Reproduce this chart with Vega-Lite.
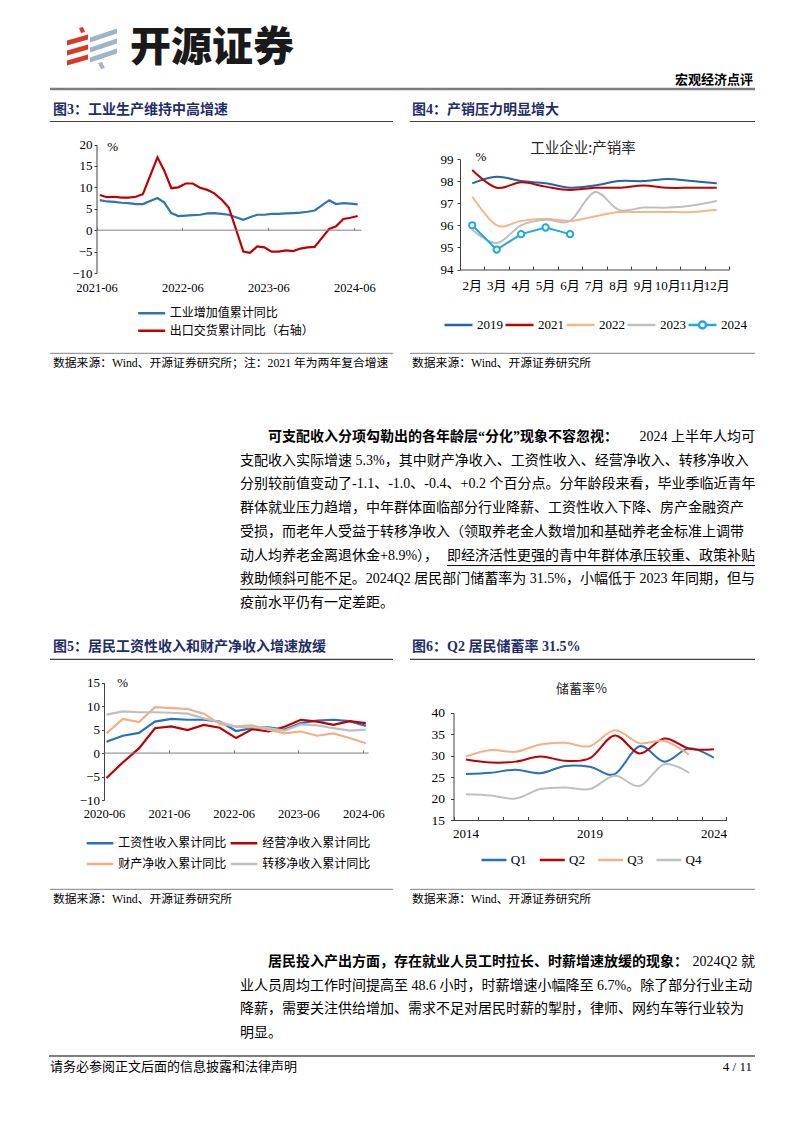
{
"$schema":"https://vega.github.io/schema/vega-lite/v6.json",
"width":802,"height":1133,"padding":0,"autosize":{"type":"none"},"background":"white",
"config":{
 "view":{"stroke":null},
 "axis":{"grid":false,"labelFont":"Liberation Serif, Noto Sans CJK SC","labelColor":"#000","labelFontSize":13,"domainColor":"#404040","tickColor":"#404040","labelFlush":false,"labelOverlap":false,"labelBound":false,"domainWidth":1,"tickWidth":1},
 "legend":{"labelColor":"#000","padding":0,"labelLimit":300,"symbolStrokeWidth":2.5,"clipHeight":14},
 "text":{"font":"Liberation Serif, Noto Sans CJK SC","color":"#000"}
},
"resolve":{"scale":{"x":"independent","y":"independent","color":"independent"},"axis":{"x":"independent","y":"independent"},"legend":{"color":"independent"}},
"layer":[
 {"data":{"values":[{}]},"mark":{"type":"point","shape":"M-25,-7.5L-4,-13.5L-4,-8.5L-25,-2.5Z M-25,2.5L-4,-3.5L-4,1.5L-25,7.5Z M-25,12.5L-4,6.5L-4,11.5L-25,17.5Z M-13,-20L-9,-21L-7,-16L-11,-15Z","size":4,"filled":true,"color":"#d8392b","opacity":1,"strokeWidth":0},"encoding":{"x":{"value":92},"y":{"value":48}}},
 {"data":{"values":[{}]},"mark":{"type":"point","shape":"M-2,-10.5L25,-19.5L25,-14.5L-2,-5.5Z M-2,-0.5L25,-9.5L25,-4.5L-2,4.5Z M-2,9.5L25,0.5L25,5.5L-2,14.5Z M6,15L10,14L13,20L9,21Z","size":4,"filled":true,"color":"#9db5c4","opacity":1,"strokeWidth":0},"encoding":{"x":{"value":92},"y":{"value":48}}},
 {"data":{"values":[{}]},"mark":{"type":"text","text":"开源证券","font":"Noto Sans CJK SC","fontSize":41,"fontWeight":900,"align":"left","baseline":"middle","color":"#1a1a1a"},"encoding":{"x":{"value":130},"y":{"value":49}}},
 {"data":{"values":[{}]},"mark":{"type":"text","text":"宏观经济点评","font":"Noto Sans CJK SC","fontSize":13,"fontWeight":"bold","align":"right","baseline":"middle"},"encoding":{"x":{"value":753},"y":{"value":80}}},
 {"data":{"values":[{}]},"mark":{"type":"rule","color":"#7f7f7f","strokeWidth":2.5},"encoding":{"x":{"value":50},"x2":{"value":755},"y":{"value":89}}},

 {"data":{"values":[{}]},"mark":{"type":"text","text":"图3：工业生产维持中高增速","fontSize":14,"fontWeight":"bold","color":"#1f2d6b","align":"left","baseline":"middle"},"encoding":{"x":{"value":53},"y":{"value":110}}},
 {"data":{"values":[{}]},"mark":{"type":"text","text":"图4：产销压力明显增大","fontSize":14,"fontWeight":"bold","color":"#1f2d6b","align":"left","baseline":"middle"},"encoding":{"x":{"value":412},"y":{"value":110}}},
 {"data":{"values":[{}]},"mark":{"type":"text","text":"图5：居民工资性收入和财产净收入增速放缓","fontSize":14,"fontWeight":"bold","color":"#1f2d6b","align":"left","baseline":"middle"},"encoding":{"x":{"value":53},"y":{"value":647}}},
 {"data":{"values":[{}]},"mark":{"type":"text","text":"图6：Q2 居民储蓄率 31.5%","fontSize":14,"fontWeight":"bold","color":"#1f2d6b","align":"left","baseline":"middle"},"encoding":{"x":{"value":412},"y":{"value":647}}},
 {"data":{"values":[{}]},"mark":{"type":"rule","color":"#404040","strokeWidth":1.2},"encoding":{"x":{"value":50},"x2":{"value":393},"y":{"value":121.5}}},
 {"data":{"values":[{}]},"mark":{"type":"rule","color":"#404040","strokeWidth":1.2},"encoding":{"x":{"value":410},"x2":{"value":755},"y":{"value":121.5}}},
 {"data":{"values":[{}]},"mark":{"type":"rule","color":"#404040","strokeWidth":1.2},"encoding":{"x":{"value":50},"x2":{"value":393},"y":{"value":659.3}}},
 {"data":{"values":[{}]},"mark":{"type":"rule","color":"#404040","strokeWidth":1.2},"encoding":{"x":{"value":410},"x2":{"value":755},"y":{"value":659.3}}},

 {"data":{"values":[{}]},"mark":{"type":"rule","color":"#808080","strokeWidth":1},"encoding":{"x":{"value":50},"x2":{"value":393},"y":{"value":353.3}}},
 {"data":{"values":[{}]},"mark":{"type":"rule","color":"#808080","strokeWidth":1},"encoding":{"x":{"value":410},"x2":{"value":755},"y":{"value":353.3}}},
 {"data":{"values":[{}]},"mark":{"type":"rule","color":"#808080","strokeWidth":1},"encoding":{"x":{"value":50},"x2":{"value":393},"y":{"value":889.3}}},
 {"data":{"values":[{}]},"mark":{"type":"rule","color":"#808080","strokeWidth":1},"encoding":{"x":{"value":410},"x2":{"value":755},"y":{"value":889.3}}},
 {"data":{"values":[{}]},"mark":{"type":"text","text":"数据来源：Wind、开源证券研究所；注：2021 年为两年复合增速","fontSize":11.8,"align":"left","baseline":"middle"},"encoding":{"x":{"value":53},"y":{"value":363.3}}},
 {"data":{"values":[{}]},"mark":{"type":"text","text":"数据来源：Wind、开源证券研究所","fontSize":11.8,"align":"left","baseline":"middle"},"encoding":{"x":{"value":412},"y":{"value":363.3}}},
 {"data":{"values":[{}]},"mark":{"type":"text","text":"数据来源：Wind、开源证券研究所","fontSize":11.8,"align":"left","baseline":"middle"},"encoding":{"x":{"value":53},"y":{"value":899.3}}},
 {"data":{"values":[{}]},"mark":{"type":"text","text":"数据来源：Wind、开源证券研究所","fontSize":11.8,"align":"left","baseline":"middle"},"encoding":{"x":{"value":412},"y":{"value":899.3}}},

 {"data":{"values":[{}]},"mark":{"type":"text","text":"%","fontSize":13,"align":"center","baseline":"middle"},"encoding":{"x":{"value":112.7},"y":{"value":147.3}}},
 {"data":{"values":[{}]},"mark":{"type":"text","text":"%","fontSize":13,"align":"center","baseline":"middle"},"encoding":{"x":{"value":481},"y":{"value":157.3}}},
 {"data":{"values":[{}]},"mark":{"type":"text","text":"%","fontSize":13,"align":"center","baseline":"middle"},"encoding":{"x":{"value":122.7},"y":{"value":683}}},
 {"data":{"values":[{}]},"mark":{"type":"text","text":"工业企业:产销率","font":"Noto Sans CJK SC","fontSize":14.5,"color":"#262626","align":"center","baseline":"middle"},"encoding":{"x":{"value":583},"y":{"value":149.3}}},
 {"data":{"values":[{}]},"mark":{"type":"text","text":"储蓄率%","font":"Noto Sans CJK SC","fontSize":13,"color":"#262626","align":"center","baseline":"middle"},"encoding":{"x":{"value":581.5},"y":{"value":689.3}}},

 {
  "data":{"values":[
   {"d":"2021-06-15","工业增加值累计同比":7.0,"出口交货累计同比（右轴）":8.2},
   {"d":"2021-07-15","工业增加值累计同比":6.7,"出口交货累计同比（右轴）":7.7},
   {"d":"2021-08-15","工业增加值累计同比":6.6,"出口交货累计同比（右轴）":7.8},
   {"d":"2021-09-15","工业增加值累计同比":6.4,"出口交货累计同比（右轴）":7.6},
   {"d":"2021-10-15","工业增加值累计同比":6.3,"出口交货累计同比（右轴）":7.6},
   {"d":"2021-11-15","工业增加值累计同比":6.1,"出口交货累计同比（右轴）":7.8},
   {"d":"2021-12-15","工业增加值累计同比":6.1,"出口交货累计同比（右轴）":8.4},
   {"d":"2022-02-15","工业增加值累计同比":7.5,"出口交货累计同比（右轴）":17.0},
   {"d":"2022-03-15","工业增加值累计同比":6.5,"出口交货累计同比（右轴）":14.0},
   {"d":"2022-04-15","工业增加值累计同比":4.0,"出口交货累计同比（右轴）":9.8},
   {"d":"2022-05-15","工业增加值累计同比":3.3,"出口交货累计同比（右轴）":10.0},
   {"d":"2022-06-15","工业增加值累计同比":3.4,"出口交货累计同比（右轴）":10.9},
   {"d":"2022-07-15","工业增加值累计同比":3.5,"出口交货累计同比（右轴）":10.9},
   {"d":"2022-08-15","工业增加值累计同比":3.6,"出口交货累计同比（右轴）":9.9},
   {"d":"2022-09-15","工业增加值累计同比":3.9,"出口交货累计同比（右轴）":9.4},
   {"d":"2022-10-15","工业增加值累计同比":4.0,"出口交货累计同比（右轴）":8.6},
   {"d":"2022-11-15","工业增加值累计同比":3.8,"出口交货累计同比（右轴）":7.1},
   {"d":"2022-12-15","工业增加值累计同比":3.6,"出口交货累计同比（右轴）":5.3},
   {"d":"2023-02-15","工业增加值累计同比":2.4,"出口交货累计同比（右轴）":-5.0},
   {"d":"2023-03-15","工业增加值累计同比":3.0,"出口交货累计同比（右轴）":-5.3},
   {"d":"2023-04-15","工业增加值累计同比":3.6,"出口交货累计同比（右轴）":-3.8},
   {"d":"2023-05-15","工业增加值累计同比":3.6,"出口交货累计同比（右轴）":-4.0},
   {"d":"2023-06-15","工业增加值累计同比":3.8,"出口交货累计同比（右轴）":-5.0},
   {"d":"2023-07-15","工业增加值累计同比":3.8,"出口交货累计同比（右轴）":-5.0},
   {"d":"2023-08-15","工业增加值累计同比":3.9,"出口交货累计同比（右轴）":-4.7},
   {"d":"2023-09-15","工业增加值累计同比":4.0,"出口交货累计同比（右轴）":-4.9},
   {"d":"2023-10-15","工业增加值累计同比":4.1,"出口交货累计同比（右轴）":-4.3},
   {"d":"2023-11-15","工业增加值累计同比":4.3,"出口交货累计同比（右轴）":-4.0},
   {"d":"2023-12-15","工业增加值累计同比":4.6,"出口交货累计同比（右轴）":-3.9},
   {"d":"2024-02-15","工业增加值累计同比":7.0,"出口交货累计同比（右轴）":0.3},
   {"d":"2024-03-15","工业增加值累计同比":6.1,"出口交货累计同比（右轴）":0.9},
   {"d":"2024-04-15","工业增加值累计同比":6.3,"出口交货累计同比（右轴）":2.6},
   {"d":"2024-05-15","工业增加值累计同比":6.2,"出口交货累计同比（右轴）":2.9},
   {"d":"2024-06-15","工业增加值累计同比":6.0,"出口交货累计同比（右轴）":3.3}
  ]},
  "transform":[{"fold":["工业增加值累计同比","出口交货累计同比（右轴）"],"as":["s","v"]}],
  "resolve":{"axis":{"x":"independent","y":"independent"}},
  "layer":[
   {"mark":{"type":"line","strokeWidth":2.2},
    "encoding":{
     "x":{"field":"d","type":"temporal","title":null,"scale":{"domain":[{"year":2021,"month":6,"date":1},{"year":2024,"month":7,"date":1}],"range":[96.5,361.5]},
      "axis":{"orient":"bottom","offset":-860,"values":[{"year":2021,"month":6,"date":1},{"year":2022,"month":6,"date":1},{"year":2023,"month":6,"date":1},{"year":2024,"month":6,"date":1}],"format":"%Y-%m","domain":false,"ticks":false,"labelPadding":8,"labelFontSize":12.5}},
     "y":{"field":"v","type":"quantitative","title":null,"scale":{"domain":[-10,20],"range":[273,144.5],"nice":false,"zero":false},
      "axis":{"orient":"left","offset":-96.5,"values":[-10,-5,0,5,10,15,20],"tickSize":2.5,"labelPadding":2}},
     "color":{"field":"s","type":"nominal","scale":{"domain":["工业增加值累计同比","出口交货累计同比（右轴）"],"range":["#2e75b6","#c00000"]},
      "legend":{"title":null,"orient":"none","legendX":136.7,"legendY":306.3,"direction":"vertical","symbolType":"stroke","symbolSize":729,"rowPadding":3.4,"labelOffset":3,"labelFont":"Noto Sans CJK SC","labelFontSize":12}}
    }},
   {"data":{"values":[{}]},"mark":{"type":"rule","color":"#7f7f7f","strokeWidth":1},
    "encoding":{
     "x":{"datum":{"year":2021,"month":6,"date":1},"type":"temporal","title":null,"axis":{"orient":"top","offset":-230.3,"values":[{"year":2021,"month":6,"date":1},{"year":2022,"month":6,"date":1},{"year":2023,"month":6,"date":1},{"year":2024,"month":6,"date":1}],"labels":false,"domain":false,"tickSize":3,"tickColor":"#7f7f7f"}},
     "x2":{"datum":{"year":2024,"month":7,"date":1}},
     "y":{"datum":0,"type":"quantitative","axis":null}
    }}
  ]
 },

 {
  "data":{"values":[
   {"m":"2月","2019":97.9,"2021":98.5,"2022":97.3,"2023":95.8,"2024":96.0},
   {"m":"3月","2019":98.2,"2021":97.7,"2022":96.0,"2023":95.2,"2024":94.9},
   {"m":"4月","2019":98.0,"2021":97.95,"2022":96.2,"2023":96.0,"2024":95.6},
   {"m":"5月","2019":97.9,"2021":97.75,"2022":96.3,"2023":96.25,"2024":95.9},
   {"m":"6月","2019":97.7,"2021":97.6,"2022":96.2,"2023":96.2,"2024":95.6},
   {"m":"7月","2019":97.8,"2021":97.7,"2022":96.4,"2023":97.5},
   {"m":"8月","2019":98.0,"2021":97.7,"2022":96.6,"2023":96.7},
   {"m":"9月","2019":98.0,"2021":97.8,"2022":96.6,"2023":96.8},
   {"m":"10月","2019":98.1,"2021":97.7,"2022":96.6,"2023":96.8},
   {"m":"11月","2019":98.0,"2021":97.7,"2022":96.6,"2023":96.9},
   {"m":"12月","2019":97.9,"2021":97.7,"2022":96.7,"2023":97.1}
  ]},
  "transform":[{"fold":["2019","2021","2022","2023","2024"],"as":["yr","v"]},{"filter":"isValid(datum.v)"}],
  "resolve":{"axis":{"x":"independent","y":"independent"}},
  "layer":[
   {"transform":[{"filter":"datum.yr !== '2024'"}],
    "mark":{"type":"line","strokeWidth":2,"interpolate":"cardinal"},
    "encoding":{
     "x":{"field":"m","type":"ordinal","title":null,"scale":{"type":"band","domain":["2月","3月","4月","5月","6月","7月","8月","9月","10月","11月","12月"],"range":[460,729],"paddingInner":0,"paddingOuter":0},
      "axis":{"orient":"bottom","offset":-863.5,"ticks":false,"domain":true,"labelPadding":10,"labelAngle":0,"labelFontSize":13}},
     "y":{"field":"v","type":"quantitative","title":null,"scale":{"domain":[94,99],"range":[269.5,159],"nice":false,"zero":false},
      "axis":{"orient":"left","offset":-460,"values":[94,95,96,97,98,99],"tickSize":3,"labelPadding":4}},
     "color":{"field":"yr","type":"nominal","scale":{"domain":["2019","2021","2022","2023","2024"],"range":["#2463ad","#c00000","#f8b58a","#bfbfbf","#22a7e0"]},
      "legend":{"title":null,"orient":"none","legendX":443,"legendY":318,"direction":"horizontal","columns":5,"symbolType":"stroke","symbolSize":784,"columnPadding":1,"labelOffset":3,"labelFont":"Liberation Serif","labelFontSize":13,
       "encode":{"symbols":{"update":{"shape":{"signal":"datum.value === '2024' ? 'M-1,0H-0.25M0.25,0H1M0.25,0A0.25,0.25,0,1,1,-0.25,0A0.25,0.25,0,1,1,0.25,0' : 'stroke'"},"fill":{"signal":"datum.value === '2024' ? 'white' : 'transparent'"}}}}}}
    }},
   {"transform":[{"filter":"datum.yr === '2024'"}],
    "mark":{"type":"line","strokeWidth":2},
    "encoding":{
     "x":{"field":"m","type":"ordinal","title":null,"axis":{"orient":"top","offset":-269.5,"labels":false,"domain":false,"ticks":true,"tickBand":"extent","tickSize":3.5}},
     "y":{"field":"v","type":"quantitative","axis":null},
     "color":{"field":"yr","type":"nominal"}
    }},
   {"transform":[{"filter":"datum.yr === '2024'"}],
    "mark":{"type":"point","size":40,"strokeWidth":2,"opacity":1},
    "encoding":{
     "x":{"field":"m","type":"ordinal","axis":null},
     "y":{"field":"v","type":"quantitative","axis":null},
     "fill":{"value":"white"},
     "stroke":{"value":"#22a7e0"}
    }}
  ]
 },

 {
  "data":{"values":[
   {"d":"2020-06-15","工资性收入累计同比":2.4,"经营净收入累计同比":-5.3,"财产净收入累计同比":4.2,"转移净收入累计同比":8.2},
   {"d":"2020-09-15","工资性收入累计同比":3.7,"经营净收入累计同比":-2.0,"财产净收入累计同比":7.3,"转移净收入累计同比":8.9},
   {"d":"2020-12-15","工资性收入累计同比":4.3,"经营净收入累计同比":1.0,"财产净收入累计同比":6.6,"转移净收入累计同比":8.7},
   {"d":"2021-03-15","工资性收入累计同比":6.7,"经营净收入累计同比":5.3,"财产净收入累计同比":9.8,"转移净收入累计同比":8.7},
   {"d":"2021-06-15","工资性收入累计同比":7.3,"经营净收入累计同比":5.7,"财产净收入累计同比":9.6,"转移净收入累计同比":8.6},
   {"d":"2021-09-15","工资性收入累计同比":7.1,"经营净收入累计同比":4.9,"财产净收入累计同比":9.4,"转移净收入累计同比":8.4},
   {"d":"2021-12-15","工资性收入累计同比":7.1,"经营净收入累计同比":6.0,"财产净收入累计同比":8.4,"转移净收入累计同比":7.4},
   {"d":"2022-03-15","工资性收入累计同比":6.7,"经营净收入累计同比":5.4,"财产净收入累计同比":6.2,"转移净收入累计同比":6.6},
   {"d":"2022-06-15","工资性收入累计同比":4.7,"经营净收入累计同比":3.2,"财产净收入累计同比":5.7,"转移净收入累计同比":5.6},
   {"d":"2022-09-15","工资性收入累计同比":5.3,"经营净收入累计同比":5.1,"财产净收入累计同比":5.9,"转移净收入累计同比":5.5},
   {"d":"2022-12-15","工资性收入累计同比":5.5,"经营净收入累计同比":4.6,"财产净收入累计同比":5.0,"转移净收入累计同比":5.3},
   {"d":"2023-03-15","工资性收入累计同比":5.0,"经营净收入累计同比":5.6,"财产净收入累计同比":4.2,"转移净收入累计同比":4.8},
   {"d":"2023-06-15","工资性收入累计同比":6.4,"经营净收入累计同比":7.1,"财产净收入累计同比":4.6,"转移净收入累计同比":6.1},
   {"d":"2023-09-15","工资性收入累计同比":6.9,"经营净收入累计同比":6.7,"财产净收入累计同比":3.7,"转移净收入累计同比":5.9},
   {"d":"2023-12-15","工资性收入累计同比":7.1,"经营净收入累计同比":6.0,"财产净收入累计同比":4.2,"转移净收入累计同比":5.3},
   {"d":"2024-03-15","工资性收入累计同比":6.8,"经营净收入累计同比":6.8,"财产净收入累计同比":3.2,"转移净收入累计同比":4.8},
   {"d":"2024-06-15","工资性收入累计同比":5.8,"经营净收入累计同比":6.4,"财产净收入累计同比":2.1,"转移净收入累计同比":5.0}
  ]},
  "transform":[{"fold":["工资性收入累计同比","经营净收入累计同比","财产净收入累计同比","转移净收入累计同比"],"as":["s","v"]}],
  "resolve":{"axis":{"x":"independent","y":"independent"}},
  "layer":[
   {"mark":{"type":"line","strokeWidth":2.2},
    "encoding":{
     "x":{"field":"d","type":"temporal","title":null,"scale":{"domain":[{"year":2020,"month":6,"date":1},{"year":2024,"month":7,"date":1}],"range":[104,368.7]},
      "axis":{"orient":"bottom","offset":-333,"values":[{"year":2020,"month":6,"date":1},{"year":2021,"month":6,"date":1},{"year":2022,"month":6,"date":1},{"year":2023,"month":6,"date":1},{"year":2024,"month":6,"date":1}],"format":"%Y-%m","domain":false,"ticks":false,"labelPadding":7.5,"labelFontSize":12.5}},
     "y":{"field":"v","type":"quantitative","title":null,"scale":{"domain":[-10,15],"range":[800,682.7],"nice":false,"zero":false},
      "axis":{"orient":"left","offset":-104,"values":[-10,-5,0,5,10,15],"tickSize":2.5,"labelPadding":2}},
     "color":{"field":"s","type":"nominal","scale":{"domain":["工资性收入累计同比","经营净收入累计同比","财产净收入累计同比","转移净收入累计同比"],"range":["#2670bd","#c00000","#f4ad86","#bfbfbf"]},
      "legend":{"title":null,"orient":"none","legendX":85,"legendY":836.3,"direction":"horizontal","columns":2,"symbolType":"stroke","symbolSize":713,"rowPadding":6.7,"columnPadding":2,"labelOffset":3.3,"labelFont":"Noto Sans CJK SC","labelFontSize":12}}
    }},
   {"data":{"values":[{}]},"mark":{"type":"rule","color":"#7f7f7f","strokeWidth":1},
    "encoding":{
     "x":{"datum":{"year":2020,"month":6,"date":1},"type":"temporal","title":null,"axis":{"orient":"top","offset":-752.7,"values":[{"year":2021,"month":6,"date":1},{"year":2022,"month":6,"date":1},{"year":2023,"month":6,"date":1},{"year":2024,"month":6,"date":1}],"labels":false,"domain":false,"tickSize":3,"tickColor":"#7f7f7f"}},
     "x2":{"datum":{"year":2024,"month":7,"date":1}},
     "y":{"datum":0,"type":"quantitative","axis":null}
    }}
  ]
 },

 {
  "data":{"values":[
   {"yr":"2014","Q1":25.7,"Q2":29.1,"Q3":29.8,"Q4":21.0},
   {"yr":"2015","Q1":26.0,"Q2":28.4,"Q3":31.3,"Q4":20.7},
   {"yr":"2016","Q1":26.7,"Q2":28.6,"Q3":30.9,"Q4":20.0},
   {"yr":"2017","Q1":25.9,"Q2":29.8,"Q3":32.6,"Q4":22.2},
   {"yr":"2018","Q1":27.6,"Q2":28.8,"Q3":33.0,"Q4":22.6},
   {"yr":"2019","Q1":27.4,"Q2":29.4,"Q3":32.2,"Q4":22.2},
   {"yr":"2020","Q1":25.7,"Q2":34.7,"Q3":35.9,"Q4":25.3},
   {"yr":"2021","Q1":32.2,"Q2":30.5,"Q3":32.9,"Q4":22.9},
   {"yr":"2022","Q1":28.6,"Q2":34.0,"Q3":33.4,"Q4":28.0},
   {"yr":"2023","Q1":31.7,"Q2":31.6,"Q3":30.2,"Q4":26.0},
   {"yr":"2024","Q1":29.5,"Q2":31.5}
  ]},
  "transform":[{"fold":["Q1","Q2","Q3","Q4"],"as":["q","v"]},{"filter":"isValid(datum.v)"}],
  "resolve":{"axis":{"x":"independent","y":"independent"}},
  "layer":[
   {"transform":[{"filter":"datum.q === 'Q1' || datum.q === 'Q2'"}],
    "mark":{"type":"line","strokeWidth":2,"interpolate":"cardinal"},
    "encoding":{
     "x":{"field":"yr","type":"ordinal","title":null,"scale":{"type":"band","domain":["2014","2015","2016","2017","2018","2019","2020","2021","2022","2023","2024"],"range":[453.5,726.3],"paddingInner":0,"paddingOuter":0},
      "axis":{"orient":"bottom","offset":-313,"values":["2014","2019","2024"],"ticks":false,"domain":true,"labelPadding":7.5,"labelAngle":0,"labelFontSize":13}},
     "y":{"field":"v","type":"quantitative","title":null,"scale":{"domain":[15,40],"range":[820,712.7],"nice":false,"zero":false},
      "axis":{"orient":"left","offset":-453.5,"values":[15,20,25,30,35,40],"tickSize":3,"labelPadding":6,"labelFontSize":13.5}},
     "color":{"field":"q","type":"nominal","scale":{"domain":["Q1","Q2","Q3","Q4"],"range":["#2670bd","#c00000","#f5b08a","#c0c0c0"]},
      "legend":{"title":null,"orient":"none","legendX":480,"legendY":853,"direction":"horizontal","columns":4,"symbolType":"stroke","symbolSize":625,"columnPadding":11.3,"labelOffset":2.7,"labelFont":"Liberation Serif","labelFontSize":13}}
    }},
   {"transform":[{"filter":"datum.q === 'Q3' || datum.q === 'Q4'"}],
    "mark":{"type":"line","strokeWidth":2,"interpolate":"cardinal"},
    "encoding":{
     "x":{"field":"yr","type":"ordinal","title":null,"axis":{"orient":"top","offset":-820,"labels":false,"domain":false,"ticks":true,"tickBand":"extent","tickSize":3.5}},
     "y":{"field":"v","type":"quantitative","axis":null},
     "color":{"field":"q","type":"nominal"}
    }}
  ]
 },

 {
  "data":{"values":[
   {"line":1,"part":"lead","text":"可支配收入分项勾勒出的各年龄层“分化”现象不容忽视："},
   {"line":1,"part":"tail","text":"2024 上半年人均可"},
   {"line":2,"part":"body","text":"支配收入实际增速 5.3%，其中财产净收入、工资性收入、经营净收入、转移净收入"},
   {"line":3,"part":"body","text":"分别较前值变动了-1.1、-1.0、-0.4、+0.2 个百分点。分年龄段来看，毕业季临近青年"},
   {"line":4,"part":"body","text":"群体就业压力趋增，中年群体面临部分行业降薪、工资性收入下降、房产金融资产"},
   {"line":5,"part":"body","text":"受损，而老年人受益于转移净收入（领取养老金人数增加和基础养老金标准上调带"},
   {"line":6,"part":"body","text":"动人均养老金离退休金+8.9%），"},
   {"line":6,"part":"emphTail","text":"即经济活性更强的青中年群体承压较重、政策补贴"},
   {"line":7,"part":"emphHead","text":"救助倾斜可能不足"},
   {"line":7,"part":"tail","text":"。2024Q2 居民部门储蓄率为 31.5%，小幅低于 2023 年同期，但与"},
   {"line":8,"part":"body","text":"疫前水平仍有一定差距。"}
  ]},
  "layer":[
   {"transform":[{"filter":"datum.part === 'lead'"}],"mark":{"type":"text","align":"left","baseline":"middle","fontSize":14,"fontWeight":"bold","dx":28},
    "encoding":{"x":{"value":240},"y":{"field":"line","type":"ordinal","scale":{"type":"point","domain":[1,2,3,4,5,6,7,8],"range":[437,603],"padding":0},"axis":null},"text":{"field":"text"}}},
   {"transform":[{"filter":"datum.part === 'body' || datum.part === 'emphHead'"}],"mark":{"type":"text","align":"left","baseline":"middle","fontSize":14},
    "encoding":{"x":{"value":240},"y":{"field":"line","type":"ordinal","axis":null},"text":{"field":"text"}}},
   {"transform":[{"filter":"datum.part === 'tail' || datum.part === 'emphTail'"}],"mark":{"type":"text","align":"right","baseline":"middle","fontSize":14},
    "encoding":{"x":{"value":755},"y":{"field":"line","type":"ordinal","axis":null},"text":{"field":"text"}}},
   {"transform":[{"filter":"datum.part === 'emphTail'"}],"mark":{"type":"rule","color":"#000","strokeWidth":1,"yOffset":10},
    "encoding":{"x":{"value":447},"x2":{"value":755},"y":{"field":"line","type":"ordinal","axis":null}}},
   {"transform":[{"filter":"datum.part === 'emphHead'"}],"mark":{"type":"rule","color":"#000","strokeWidth":1,"yOffset":10},
    "encoding":{"x":{"value":240},"x2":{"value":352},"y":{"field":"line","type":"ordinal","axis":null}}}
  ]
 },

 {
  "data":{"values":[
   {"line":1,"part":"lead","text":"居民投入产出方面，存在就业人员工时拉长、时薪增速放缓的现象："},
   {"line":1,"part":"tail","text":"2024Q2 就"},
   {"line":2,"part":"body","text":"业人员周均工作时间提高至 48.6 小时，时薪增速小幅降至 6.7%。除了部分行业主动"},
   {"line":3,"part":"body","text":"降薪，需要关注供给增加、需求不足对居民时薪的掣肘，律师、网约车等行业较为"},
   {"line":4,"part":"body","text":"明显。"}
  ]},
  "layer":[
   {"transform":[{"filter":"datum.part === 'lead'"}],"mark":{"type":"text","align":"left","baseline":"middle","fontSize":14,"fontWeight":"bold","dx":28},
    "encoding":{"x":{"value":240},"y":{"field":"line","type":"ordinal","scale":{"type":"point","domain":[1,2,3,4],"range":[962,1033],"padding":0},"axis":null},"text":{"field":"text"}}},
   {"transform":[{"filter":"datum.part === 'body'"}],"mark":{"type":"text","align":"left","baseline":"middle","fontSize":14},
    "encoding":{"x":{"value":240},"y":{"field":"line","type":"ordinal","axis":null},"text":{"field":"text"}}},
   {"transform":[{"filter":"datum.part === 'tail'"}],"mark":{"type":"text","align":"right","baseline":"middle","fontSize":14},
    "encoding":{"x":{"value":755},"y":{"field":"line","type":"ordinal","axis":null},"text":{"field":"text"}}}
  ]
 },

 {"data":{"values":[{}]},"mark":{"type":"rule","color":"#000","strokeWidth":1.2},"encoding":{"x":{"value":49},"x2":{"value":755},"y":{"value":1056}}},
 {"data":{"values":[{}]},"mark":{"type":"text","text":"请务必参阅正文后面的信息披露和法律声明","fontSize":13,"align":"left","baseline":"middle"},"encoding":{"x":{"value":50},"y":{"value":1067}}},
 {"data":{"values":[{}]},"mark":{"type":"text","text":"4 / 11","fontSize":13,"align":"right","baseline":"middle"},"encoding":{"x":{"value":752},"y":{"value":1067}}}
]
}
